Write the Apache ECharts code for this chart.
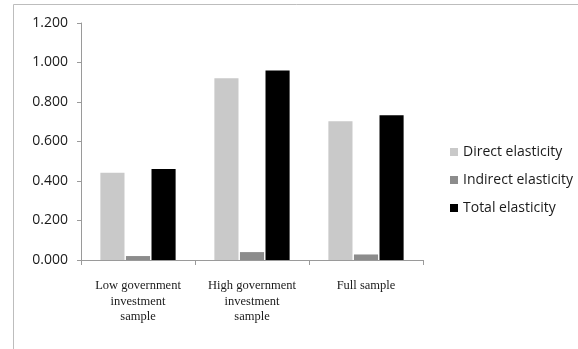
<!DOCTYPE html>
<html>
<head>
<meta charset="utf-8">
<script src="https://cdn.jsdelivr.net/npm/echarts@6/dist/echarts.min.js"></script>
<style>
  html, body { margin: 0; padding: 0; background: #fff; }
  #chart { width: 578px; height: 349px; }
</style>
</head>
<body>
<div id="chart"></div>
<script>
const categories = ['Low government\ninvestment\nsample', 'High government\ninvestment\nsample', 'Full sample'];
const seriesNames = ['Direct elasticity', 'Indirect elasticity', 'Total elasticity'];
const directValues = [0.442, 0.920, 0.702];
const indirectValues = [0.020, 0.040, 0.028];
const totalValues = [0.461, 0.960, 0.733];
const yTicks = [0, 0.2, 0.4, 0.6, 0.8, 1.0, 1.2];

const colors = ['#c9c9c9', '#8c8c8c', '#000000'];
const values = [directValues, indirectValues, totalValues];

const chart = echarts.init(document.getElementById('chart'));
chart.setOption({
  animation: false,
  graphic: [{
    type: 'rect',
    shape: { x: 13.5, y: 4.5, width: 600, height: 400 },
    style: { fill: 'none', stroke: '#bdbdbd', lineWidth: 1 },
    silent: true
  }],
  legend: {
    orient: 'vertical',
    left: 445,
    top: 140,
    itemWidth: 8,
    itemHeight: 8,
    itemGap: 14,
    icon: 'rect',
    textStyle: { fontFamily: 'Open Sans', fontSize: 14, color: '#1a1a1a' },
    data: seriesNames
  },
  grid: { left: 81, top: 23, right: 155, bottom: 89, containLabel: false },
  xAxis: {
    type: 'category',
    data: categories,
    axisLine: { lineStyle: { color: '#9a9a9a' } },
    axisTick: { show: true, length: 5, lineStyle: { color: '#9a9a9a' } },
    axisLabel: {
      interval: 0,
      margin: 18,
      lineHeight: 15.5,
      fontFamily: 'Liberation Serif',
      fontSize: 12.5,
      color: '#1a1a1a'
    }
  },
  yAxis: {
    type: 'value',
    min: yTicks[0],
    max: yTicks[yTicks.length - 1],
    interval: 0.2,
    splitLine: { show: false },
    axisLine: { show: true, lineStyle: { color: '#9a9a9a' } },
    axisTick: { show: true, length: 4, lineStyle: { color: '#9a9a9a' } },
    axisLabel: {
      margin: 13,
      fontFamily: 'Open Sans',
      fontSize: 14,
      color: '#1a1a1a',
      formatter: v => v.toFixed(3)
    }
  },
  series: seriesNames.map((name, i) => ({
    name,
    type: 'bar',
    data: values[i],
    itemStyle: { color: colors[i] },
    barGap: '6%',
    barCategoryGap: '34%'
  }))
});
</script>
</body>
</html>
